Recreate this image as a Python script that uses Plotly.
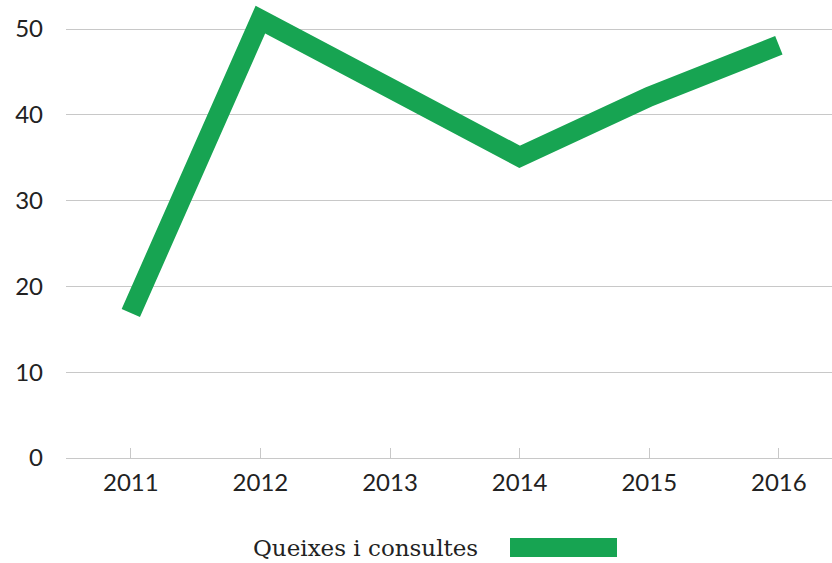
import plotly.graph_objects as go

years = ["2011", "2012", "2013", "2014", "2015", "2016"]
values = [16.9, 51.1, 43.1, 35.1, 42.1, 48.1]
series_name = "Queixes i consultes"
y_ticks = [0, 10, 20, 30, 40, 50]

GREEN = "#17a452"
GRID = "#c8c8c8"

fig = go.Figure()
fig.add_trace(go.Scatter(
    x=list(range(len(years))), y=values, mode="lines", name=series_name,
    line=dict(color=GREEN, width=20), showlegend=False,
))

fig.update_layout(
    width=832, height=563,
    margin=dict(l=66, r=0, t=0, b=105),
    paper_bgcolor="white", plot_bgcolor="white",
    font=dict(family="Lato", size=24, color="#222222"),
    xaxis=dict(
        range=[-0.5, 5.41], tickmode="array", tickvals=list(range(len(years))),
        ticktext=years, ticks="inside", ticklen=10, tickcolor=GRID, tickwidth=1,
        showgrid=False, showline=False, zeroline=False, ticklabelstandoff=8,
    ),
    yaxis=dict(
        range=[0, 53.38], tickvals=y_ticks, showgrid=True, gridcolor=GRID, gridwidth=1,
        zeroline=True, zerolinecolor=GRID, zerolinewidth=1, showline=False,
        ticklabelstandoff=22,
    ),
    annotations=[dict(
        text=series_name, xref="paper", yref="paper", x=(480 - 66) / 766, y=-(548 - 458) / 458,
        xanchor="right", yanchor="middle", showarrow=False,
        font=dict(family="DejaVu Serif", size=23, color="#222222"),
    )],
    shapes=[dict(
        type="rect", xref="paper", yref="paper",
        x0=(510 - 66) / 766, x1=(617 - 66) / 766,
        y0=-(557 - 458) / 458, y1=-(538 - 458) / 458,
        fillcolor=GREEN, line=dict(width=0),
    )],
)

post = (
    "document.body.style.margin='0';document.body.style.overflow='hidden';"
    "document.querySelectorAll('.scatterlayer path.js-line').forEach(function(p){"
    "p.style.strokeLinejoin='miter';p.style.strokeLinecap='butt';});"
)
fig.write_html("out.html", post_script=post, config={"displayModeBar": False})
